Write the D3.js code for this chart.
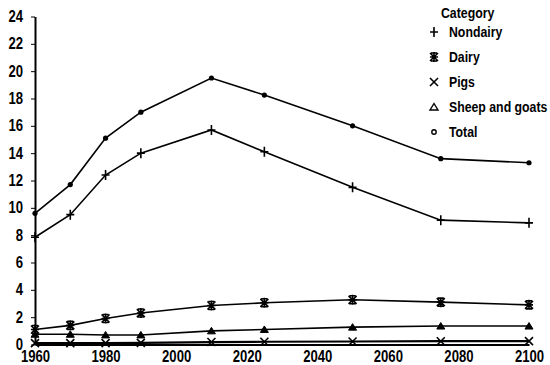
<!DOCTYPE html>
<html><head><meta charset="utf-8">
<script src="https://cdn.jsdelivr.net/npm/d3@7"></script>
<style>body{margin:0;background:#fff}svg{display:block}text{font-family:"Liberation Sans",Arial,sans-serif;font-weight:bold;fill:#000}</style>
</head><body><svg id="c" width="550" height="365"></svg>
<script>
const years = [1960, 1970, 1980, 1990, 2010, 2025, 2050, 2075, 2100];
const nondairy = [7.85, 9.5, 12.4, 14.0, 15.7, 14.1, 11.5, 9.1, 8.9];
const dairy = [1.1, 1.4, 1.9, 2.3, 2.85, 3.05, 3.27, 3.1, 2.9];
const pigs = [0.1, 0.1, 0.1, 0.12, 0.18, 0.2, 0.22, 0.24, 0.25];
const sheep = [0.75, 0.75, 0.7, 0.7, 1.0, 1.1, 1.27, 1.35, 1.35];
const total = [9.6, 11.7, 15.1, 17.0, 19.5, 18.25, 16.0, 13.6, 13.3];
const seriesNames = ["Nondairy", "Dairy", "Pigs", "Sheep and goats", "Total"];
const xTicks = [1960, 1980, 2000, 2020, 2040, 2060, 2080, 2100];
const yTicks = [0, 2, 4, 6, 8, 10, 12, 14, 16, 18, 20, 22, 24];
const legendTitle = "Category";

const SX = 0.82;
const svg = d3.select("#c");
const x = d3.scaleLinear().domain([1960, 2100]).range([35, 529]);
const y = d3.scaleLinear().domain([0, 24]).range([344.5, 16.5]);

const yAxis = svg.append("g").attr("transform", "translate(35,0)")
  .call(d3.axisLeft(y).tickValues(yTicks).tickSize(4).tickPadding(8).tickSizeOuter(0));
yAxis.select(".domain").attr("stroke-width", 2);
yAxis.selectAll(".tick text").attr("x", -12 / SX).attr("transform", `scale(${SX},1)`);
const xAxis = svg.append("g").attr("transform", "translate(0,344.5)")
  .call(d3.axisBottom(x).tickValues(xTicks).tickFormat(d3.format("d")).tickSize(0).tickPadding(6));
xAxis.select(".domain").attr("stroke-width", 2);
xAxis.selectAll(".tick text").attr("transform", `scale(${SX},1)`);
svg.selectAll(".tick text").style("font-family", '"Liberation Sans",Arial,sans-serif').style("font-weight", "bold").style("font-size", "16px").attr("fill", "#000");

const data = [nondairy, dairy, pigs, sheep, total];
const line = d3.line().x((d, i) => x(years[i])).y(d => y(d));

function marker(g, k, cx, cy) {
  const s = g.append("g").attr("transform", `translate(${cx},${cy})`).attr("stroke", "#000").attr("fill", "none").attr("stroke-width", 1.6);
  if (k === 0) { s.append("path").attr("d", "M-4,0H4M0,-5V5"); }
  else if (k === 1) { s.append("path").attr("d", "M-4,-4L4,4M-4,4L4,-4M-4,0H4M0,-5V5M-3,-4H3M-3,4H3"); }
  else if (k === 2) { s.append("path").attr("d", "M-4,-4L4,4M-4,4L4,-4"); }
  else if (k === 3) { s.append("path").attr("d", "M0,-3.5L4,3L-4,3Z").attr("fill", "#000").attr("stroke-width", 1); }
  else { s.append("circle").attr("r", 2.6).attr("fill", "#000").attr("stroke", "none"); }
}

data.forEach((vals, k) => {
  svg.append("path").datum(vals).attr("d", line).attr("fill", "none").attr("stroke", "#000").attr("stroke-width", k === 2 ? 2.2 : 1.6);
  const g = svg.append("g");
  vals.forEach((v, i) => marker(g, k, x(years[i]), y(v)));
});

// legend
function label(tx, ty, s) {
  svg.append("g").attr("transform", `translate(${tx},${ty})`)
    .append("text").attr("transform", `scale(${SX},1)`).style("font-size", "15px").text(s);
}
label(441, 18, legendTitle);
seriesNames.forEach((n, i) => {
  const cy = 32 + i * 25;
  const g = svg.append("g");
  if (i === 3) {
    g.append("path").attr("transform", `translate(434,${cy})`).attr("d", "M0,-3.5L4,3L-4,3Z").attr("fill", "none").attr("stroke", "#000").attr("stroke-width", 1.4);
  } else if (i === 4) {
    g.append("circle").attr("cx", 434).attr("cy", cy).attr("r", 2.2).attr("fill", "none").attr("stroke", "#000").attr("stroke-width", 1.4);
  } else {
    marker(g, i, 434, cy);
  }
  label(449, cy + 5, n);
});
</script></body></html>
